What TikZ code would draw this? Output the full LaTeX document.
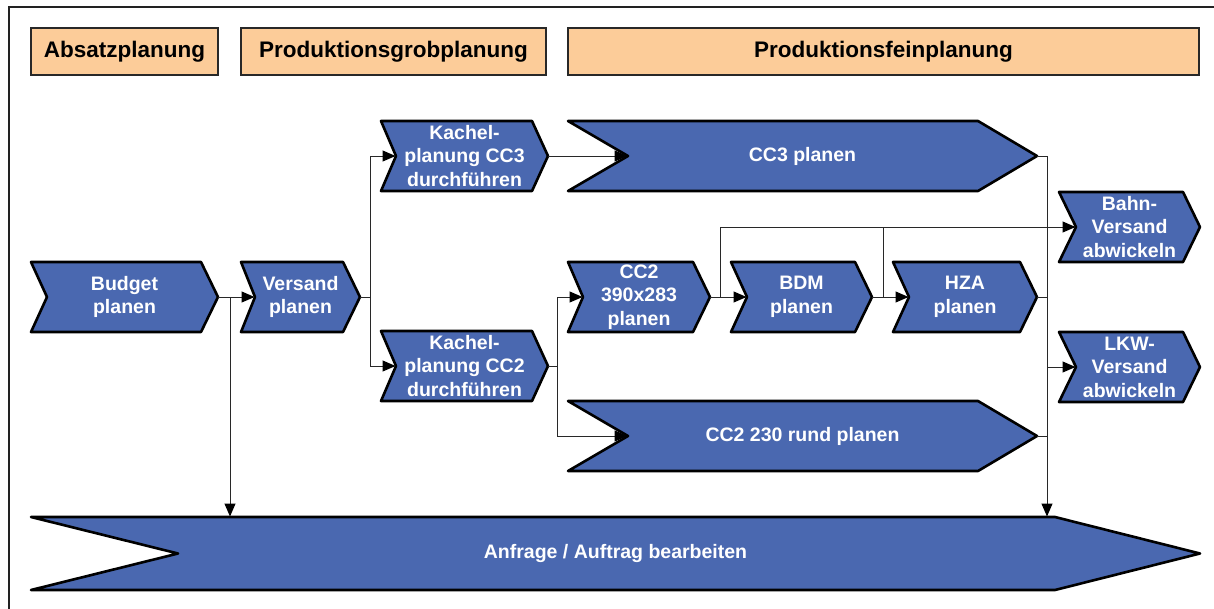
\documentclass[tikz,border=0pt]{standalone}
\usepackage{fontspec}
\setmainfont{Liberation Sans}
\usetikzlibrary{arrows.meta}

\definecolor{procblue}{RGB}{74,104,176}
\definecolor{phasepeach}{RGB}{252,204,153}
\definecolor{framegray}{RGB}{34,34,34}
\definecolor{linegray}{RGB}{40,40,40}

\tikzset{
  chev/.style={fill=procblue, draw=black, line width=2.6pt, line join=round},
  chevtext/.style={text=white, font=\bfseries\fontsize{19.5}{23.5}\selectfont, align=center, inner sep=0pt},
  phase/.style={fill=phasepeach, draw=linegray, line width=1.3pt, inner sep=0pt,
    font=\bfseries\fontsize{22.5}{26}\selectfont, text=black},
  conn/.style={draw=linegray, line width=1pt},
  arr/.style={conn, -{Triangle[length=13pt,width=11pt,fill=black,color=black]}, shorten >=0.5pt},
}

% chevron: name, x1, y1, x2, y2, notch depth, tip depth, label
\newcommand\chevron[8]{%
  \draw[chev] (#2,#3) -- (#4-#7,#3) -- (#4,{(#3+#5)/2}) -- (#4-#7,#5) -- (#2,#5)
    -- (#2+#6,{(#3+#5)/2}) -- cycle;
  \node[chevtext] (#1) at ({(#2+#4)/2},{(#3+#5)/2}) {#8};
  \coordinate (#1-in) at (#2+#6,{(#3+#5)/2});
  \coordinate (#1-out) at (#4,{(#3+#5)/2});
  \coordinate (#1-top) at ({(#2+#4)/2},#3);
}

\begin{document}
\begin{tikzpicture}[x=1pt,y=-1pt]
  \useasboundingbox (0,0) rectangle (1214,608);

  % outer frame
  \draw[framegray, line width=2.6pt] (9,612) -- (9,7) -- (1218,7);

  % phase headers
  \node[phase, minimum width=187pt, minimum height=47pt] (ph1) at (124.5,51.5) {Absatzplanung};
  \node[phase, minimum width=305pt, minimum height=47pt] (ph2) at (393.5,51.5) {Produktionsgrobplanung};
  \node[phase, minimum width=631pt, minimum height=47pt] (ph3) at (883.5,51.5) {Produktionsfeinplanung};

  % process steps
  \chevron{bud}{31}{262}{218}{332}{16}{17}{Budget\\planen}
  \chevron{ver}{241}{262}{360}{332}{14}{17}{Versand\\planen}
  \chevron{kc3}{381}{121}{548}{191}{15}{16}{Kachel-\\planung CC3\\durchführen}
  \chevron{kc2}{381}{331}{548}{401}{15}{16}{Kachel-\\planung CC2\\durchführen}
  \chevron{cc3}{568}{121}{1037}{191}{60}{59}{CC3 planen}
  \chevron{c390}{568}{262}{710}{332}{15}{17}{CC2\\390x283\\planen}
  \chevron{bdm}{731}{262}{872}{332}{16}{17}{BDM\\planen}
  \chevron{hza}{893}{262}{1037}{332}{16}{17}{HZA\\planen}
  \chevron{c230}{568}{401}{1037}{471}{60}{59}{CC2 230 rund planen}
  \chevron{bahn}{1059}{192}{1200}{262}{17}{17}{Bahn-\\Versand\\abwickeln}
  \chevron{lkw}{1059}{332}{1200}{402}{17}{17}{LKW-\\Versand\\abwickeln}
  \chevron{anf}{31}{517}{1200}{590}{147}{145}{Anfrage / Auftrag bearbeiten}

  % junctions
  \coordinate (j1) at (230,297);
  \coordinate (j2) at (370,297);
  \coordinate (j3) at (557,366);
  \coordinate (j4) at (720,297);
  \coordinate (j5) at (883,297);
  \coordinate (j6) at (1047,156);

  % connectors
  \draw[arr] (bud-out) -- (ver-in);
  \draw[arr] (j1) -- (j1 |- anf-top);

  \draw[conn] (ver-out) -- (j2);
  \draw[arr] (j2) |- (kc3-in);
  \draw[arr] (j2) |- (kc2-in);

  \draw[arr] (kc3-out) -- (cc3-in);

  \draw[conn] (kc2-out) -- (j3);
  \draw[arr] (j3) |- (c390-in);
  \draw[arr] (j3) |- (c230-in);

  \draw[arr] (c390-out) -- (bdm-in);
  \draw[arr] (j4) |- (bahn-in);
  \draw[arr] (bdm-out) -- (hza-in);
  \draw[conn] (j5) -- (j5 |- bahn-in);

  \draw[conn] (cc3-out) -- (j6);
  \draw[arr] (j6) -- (j6 |- anf-top);
  \draw[conn] (hza-out) -- (hza-out -| j6);
  \draw[conn] (c230-out) -- (c230-out -| j6);
  \draw[arr] (lkw-in -| j6) -- (lkw-in);
\end{tikzpicture}
\end{document}
